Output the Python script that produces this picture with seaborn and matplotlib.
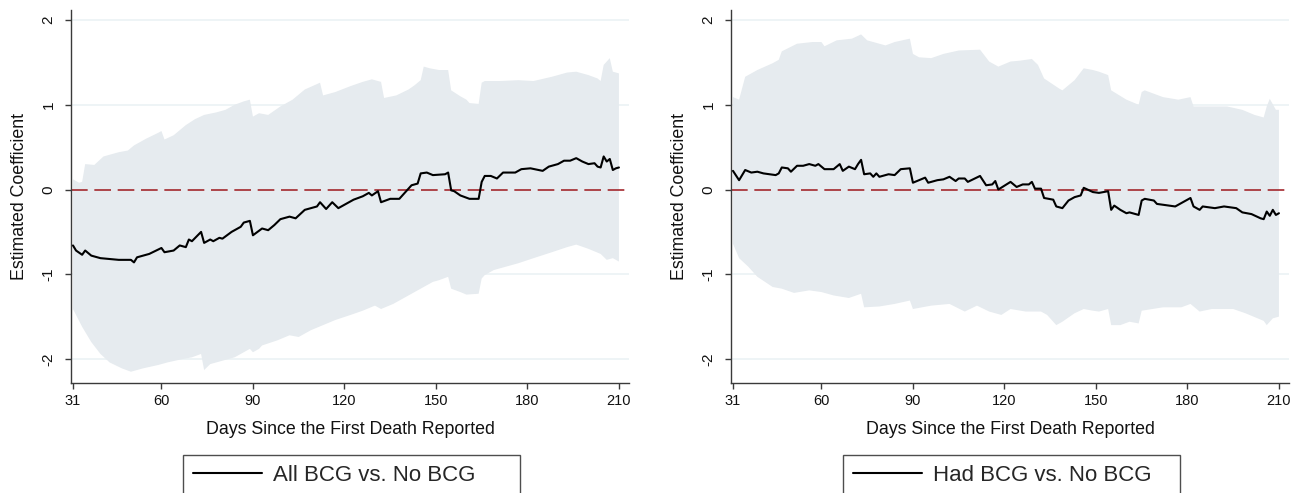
import numpy as np
import seaborn as sns
import matplotlib.pyplot as plt

# Left panel: All BCG vs. No BCG
left_coef_days = [31, 32, 34, 35, 37, 40, 46, 50, 51, 52, 56, 60, 61, 64, 66, 68, 69, 70, 73, 74,
                  76, 77, 79, 80, 83, 86, 87, 89, 90, 93, 95, 97, 99, 102, 104, 107, 111, 112, 114, 116,
                  118, 121, 123, 126, 128, 129, 131, 132, 135, 138, 140, 142, 144, 145, 147, 149, 153, 154, 155, 156,
                  158, 161, 164, 165, 166, 168, 170, 172, 176, 178, 181, 185, 187, 190, 192, 194, 196, 198, 200, 202,
                  203, 204, 205, 206, 207, 208, 209, 210]
left_coef = [-0.66, -0.72, -0.77, -0.72, -0.78, -0.81, -0.83, -0.83, -0.86, -0.80, -0.76, -0.69, -0.74, -0.72, -0.66, -0.68, -0.59, -0.61, -0.50, -0.63,
             -0.59, -0.61, -0.57, -0.58, -0.50, -0.44, -0.39, -0.37, -0.54, -0.46, -0.48, -0.42, -0.35, -0.32, -0.34, -0.24, -0.20, -0.15, -0.23, -0.15,
             -0.22, -0.16, -0.12, -0.08, -0.04, -0.07, -0.02, -0.15, -0.11, -0.11, -0.03, 0.05, 0.07, 0.19, 0.20, 0.17, 0.18, 0.20, -0.01, -0.02,
             -0.07, -0.11, -0.11, 0.09, 0.16, 0.16, 0.13, 0.20, 0.20, 0.24, 0.25, 0.22, 0.27, 0.30, 0.34, 0.34, 0.37, 0.33, 0.30, 0.31,
             0.27, 0.26, 0.39, 0.33, 0.36, 0.23, 0.25, 0.26]

left_hi_days = [31, 33, 34, 35, 38, 41, 46, 49, 51, 55, 59, 60, 61, 64, 68, 71, 74, 78, 81, 84,
                87, 89, 90, 92, 95, 99, 103, 107, 112, 113, 117, 122, 126, 129, 132, 133, 137, 141, 143, 145,
                146, 148, 151, 154, 155, 158, 160, 161, 164, 165, 166, 171, 177, 182, 188, 193, 196, 200, 203, 204,
                205, 207, 208, 210]
left_hi = [0.12, 0.08, 0.09, 0.30, 0.29, 0.39, 0.44, 0.46, 0.52, 0.60, 0.67, 0.69, 0.59, 0.64, 0.76, 0.83, 0.88, 0.91, 0.94, 1.00,
           1.04, 1.06, 0.86, 0.90, 0.88, 0.98, 1.06, 1.18, 1.26, 1.11, 1.15, 1.22, 1.27, 1.30, 1.27, 1.08, 1.11, 1.18, 1.23, 1.29,
           1.45, 1.43, 1.41, 1.41, 1.17, 1.10, 1.06, 1.02, 1.01, 1.26, 1.28, 1.28, 1.29, 1.28, 1.33, 1.38, 1.39, 1.35, 1.31, 1.28,
           1.47, 1.55, 1.39, 1.37]

left_lo_days = [31, 34, 37, 40, 43, 47, 50, 54, 59, 62, 67, 70, 73, 74, 76, 80, 84, 89, 90, 92,
                93, 98, 102, 105, 109, 113, 117, 122, 126, 130, 132, 136, 140, 143, 146, 149, 151, 154, 155, 158,
                160, 164, 165, 166, 169, 177, 182, 188, 193, 196, 200, 204, 206, 208, 210]
left_lo = [-1.41, -1.62, -1.80, -1.94, -2.04, -2.11, -2.15, -2.11, -2.07, -2.04, -2.00, -1.98, -1.94, -2.13, -2.06, -2.02, -1.98, -1.88, -1.92, -1.88,
           -1.84, -1.78, -1.72, -1.74, -1.66, -1.60, -1.54, -1.48, -1.43, -1.37, -1.41, -1.35, -1.27, -1.21, -1.15, -1.09, -1.07, -1.03, -1.17, -1.21,
           -1.24, -1.23, -1.05, -1.01, -0.95, -0.87, -0.81, -0.74, -0.68, -0.65, -0.70, -0.76, -0.83, -0.81, -0.85]

# Right panel: Had BCG vs. No BCG
right_coef_days = [31, 33, 35, 37, 39, 41, 45, 46, 47, 49, 50, 52, 54, 56, 58, 59, 61, 64, 66, 67,
                   69, 71, 72, 73, 74, 76, 77, 78, 79, 82, 84, 86, 89, 90, 92, 94, 95, 98, 100, 102,
                   104, 105, 107, 108, 112, 114, 116, 117, 118, 122, 124, 126, 128, 129, 130, 132, 133, 136, 137, 139,
                   141, 143, 145, 146, 149, 151, 154, 155, 156, 158, 160, 161, 164, 165, 166, 169, 170, 176, 178, 181,
                   182, 184, 185, 189, 192, 196, 198, 201, 204, 205, 206, 207, 208, 209, 210]
right_coef = [0.22, 0.11, 0.23, 0.20, 0.21, 0.19, 0.17, 0.19, 0.26, 0.25, 0.21, 0.28, 0.28, 0.30, 0.28, 0.30, 0.24, 0.24, 0.30, 0.22,
              0.27, 0.24, 0.30, 0.35, 0.18, 0.19, 0.15, 0.19, 0.15, 0.18, 0.17, 0.24, 0.25, 0.08, 0.11, 0.14, 0.08, 0.11, 0.12, 0.15,
              0.10, 0.13, 0.13, 0.09, 0.16, 0.05, 0.06, 0.10, 0.00, 0.09, 0.03, 0.06, 0.06, 0.09, 0.01, 0.01, -0.10, -0.12, -0.20, -0.22,
              -0.13, -0.09, -0.07, 0.02, -0.03, -0.04, -0.02, -0.24, -0.19, -0.24, -0.28, -0.27, -0.30, -0.13, -0.11, -0.13, -0.17, -0.20, -0.16, -0.10,
              -0.20, -0.24, -0.20, -0.22, -0.20, -0.22, -0.27, -0.29, -0.34, -0.35, -0.26, -0.31, -0.24, -0.30, -0.28]

right_hi_days = [31, 33, 35, 39, 44, 46, 47, 52, 57, 60, 61, 65, 70, 73, 75, 78, 81, 84, 89, 90,
                 92, 96, 100, 105, 112, 115, 118, 122, 125, 129, 131, 133, 138, 139, 143, 146, 149, 151, 154, 155,
                 160, 164, 165, 166, 172, 177, 181, 182, 186, 193, 198, 202, 205, 206, 207, 209, 210]
right_hi = [1.09, 1.06, 1.33, 1.41, 1.49, 1.53, 1.63, 1.72, 1.74, 1.74, 1.69, 1.76, 1.78, 1.83, 1.76, 1.73, 1.70, 1.74, 1.78, 1.60,
            1.56, 1.55, 1.60, 1.64, 1.65, 1.51, 1.45, 1.51, 1.52, 1.54, 1.47, 1.31, 1.19, 1.17, 1.29, 1.43, 1.41, 1.39, 1.35, 1.17,
            1.06, 1.00, 1.15, 1.17, 1.09, 1.06, 1.09, 0.98, 0.98, 0.98, 0.94, 0.88, 0.85, 0.98, 1.07, 0.94, 0.94]

right_lo_days = [31, 33, 36, 39, 44, 47, 51, 56, 60, 64, 69, 73, 74, 79, 84, 89, 90, 96, 102, 107,
                 111, 115, 119, 122, 127, 132, 134, 137, 139, 143, 146, 149, 151, 154, 155, 158, 161, 164, 165, 172,
                 178, 181, 184, 188, 195, 199, 203, 205, 206, 208, 210]
right_lo = [-0.64, -0.81, -0.91, -1.03, -1.15, -1.17, -1.22, -1.19, -1.21, -1.25, -1.28, -1.23, -1.39, -1.38, -1.35, -1.31, -1.41, -1.37, -1.35, -1.44,
            -1.37, -1.44, -1.48, -1.41, -1.44, -1.44, -1.48, -1.60, -1.56, -1.46, -1.41, -1.43, -1.44, -1.41, -1.60, -1.60, -1.56, -1.58, -1.43, -1.39,
            -1.39, -1.35, -1.44, -1.41, -1.41, -1.46, -1.52, -1.55, -1.60, -1.52, -1.50]

panels = [
    (left_coef_days, left_coef, left_hi_days, left_hi, left_lo_days, left_lo, "All BCG vs. No BCG"),
    (right_coef_days, right_coef, right_hi_days, right_hi, right_lo_days, right_lo, "Had BCG vs. No BCG"),
]
x_ticks = [31, 60, 90, 120, 150, 180, 210]
y_ticks = [-2, -1, 0, 1, 2]

sns.set_theme(style="white")
plt.rcParams["font.family"] = ["Liberation Sans", "DejaVu Sans"]

W, H = 1304, 493
fig = plt.figure(figsize=(W / 100, H / 100), dpi=100)

band_color = "#e6ebef"
grid_color = "#edf3f6"
axis_color = "#3a3a3a"

for i, (cd, cv, hd, hv, ld, lv, label) in enumerate(panels):
    x0 = [71, 731][i]
    ax = fig.add_axes([x0 / W, 1 - 383 / H, 558 / W, 373 / H])
    ax.set_axisbelow(True)

    for yt in [-2, -1, 1, 2]:
        ax.axhline(yt, color=grid_color, lw=1.3, zorder=0)

    band_x = np.r_[hd, ld[::-1]]
    band_y = np.r_[hv, lv[::-1]]
    ax.fill(band_x, band_y, color=band_color, lw=0, zorder=1)

    ax.axhline(0, color="#a3282d", lw=1.2, dashes=(10, 4), zorder=2)
    sns.lineplot(x=cd, y=cv, ax=ax, color="black", lw=1.5, label=label, zorder=3)

    ax.set_xlim(30.35, 213.3)
    ax.set_ylim(-2.283, 2.118)
    ax.set_xticks(x_ticks)
    ax.set_yticks(y_ticks)
    ax.set_yticklabels([str(t) for t in y_ticks], rotation=90, va="center")
    ax.tick_params(axis="x", direction="out", length=4, width=1, color=axis_color,
                   labelsize=10.5, labelcolor="#111111", pad=4, bottom=True)
    ax.tick_params(axis="y", direction="out", length=4, width=1, color=axis_color,
                   labelsize=11, labelcolor="#111111", pad=7, left=True)
    for s in ["top", "right"]:
        ax.spines[s].set_visible(False)
    for s in ["left", "bottom"]:
        ax.spines[s].set_color(axis_color)
        ax.spines[s].set_linewidth(1)
    ax.set_xlabel("Days Since the First Death Reported", fontsize=12.8, color="#111111", labelpad=9)
    ax.set_ylabel("Estimated Coefficient", fontsize=12.8, color="#111111", labelpad=10)

    leg = ax.legend(loc="upper left", bbox_to_anchor=(0.2014, -0.203, 0.604, 0.01),
                    mode="expand", fontsize=16, frameon=True, fancybox=False, shadow=False,
                    handlelength=3.1, handletextpad=0.5, borderpad=0.45, borderaxespad=0)
    leg.get_frame().set_edgecolor("#222222")
    leg.get_frame().set_linewidth(1)

fig.savefig("out.png", dpi=100)
